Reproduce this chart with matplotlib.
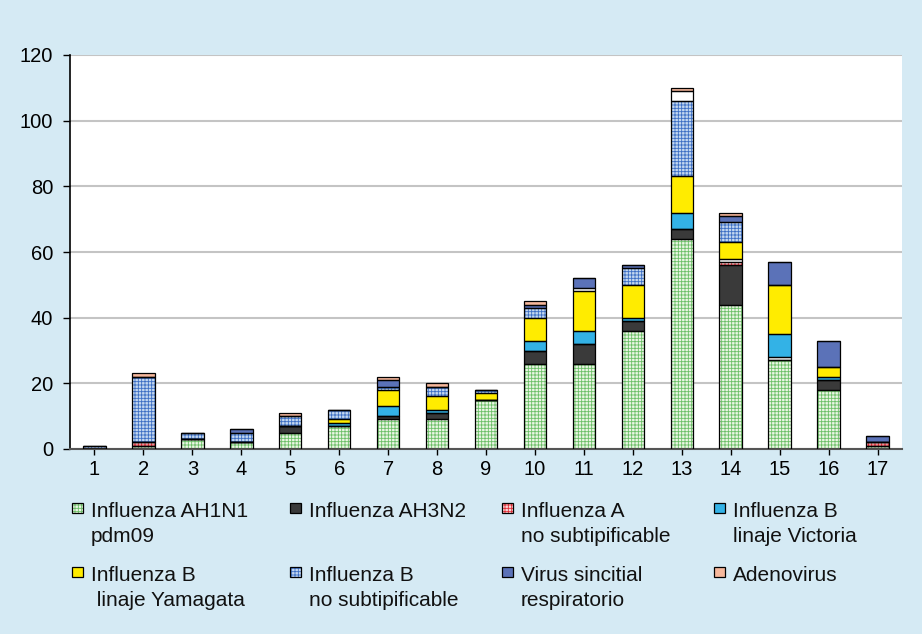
import matplotlib.pyplot as plt
import numpy as np
from matplotlib.patches import Rectangle

plt.rcParams['font.family'] = ['Liberation Sans', 'DejaVu Sans']
plt.rcParams['hatch.linewidth'] = 0.6

weeks = list(range(1, 18))

# casos por semana y agente
ah1n1 = [0, 1, 3, 2, 5, 7, 9, 9, 15, 26, 26, 36, 64, 44, 27, 18, 1]
ah3n2 = [0, 0, 0, 0, 2, 0, 1, 2, 0, 4, 6, 3, 3, 12, 0, 3, 0]
a_nosub = [0, 1, 0, 0, 0, 0, 0, 0, 0, 0, 0, 0, 0, 1, 1, 0, 1]
b_victoria = [0, 0, 0, 0, 0, 1, 3, 1, 0, 3, 4, 1, 5, 1, 7, 1, 0]
b_yamagata = [0, 0, 0, 0, 0, 1, 5, 4, 2, 7, 12, 10, 11, 5, 15, 3, 0]
b_nosub = [1, 20, 2, 3, 3, 3, 1, 3, 1, 3, 1, 5, 23, 6, 0, 0, 0]
vsr = [0, 0, 0, 1, 0, 0, 2, 0, 0, 1, 3, 1, 3, 2, 7, 8, 2]
adeno = [0, 1, 0, 0, 1, 0, 1, 1, 0, 1, 0, 0, 1, 1, 0, 0, 0]

labels = ["Influenza AH1N1\npdm09", "Influenza AH3N2", "Influenza A\nno subtipificable",
          "Influenza B\nlinaje Victoria", "Influenza B\n linaje Yamagata",
          "Influenza B\nno subtipificable", "Virus sincitial\nrespiratorio", "Adenovirus"]

# segmentos que en el original salen en blanco (semana, indice de serie)
blank = [(11, 5), (13, 6), (14, 3), (15, 2)]

series = [ah1n1, ah3n2, a_nosub, b_victoria, b_yamagata, b_nosub, vsr, adeno]
# (relleno, color de trama, trama)
styles = [('#eaf6e4', '#6cbf68', '+++++'),
          ('#3a3a3a', None, None),
          ('#fbd3d3', '#e0303a', '+++++'),
          ('#33b2e6', None, None),
          ('#ffec00', None, None),
          ('#c3d7f0', '#3d6fc4', '+++++'),
          ('#5b72b8', None, None),
          ('#f6b89c', None, None)]

fig = plt.figure(figsize=(9.22, 6.34), dpi=100)
fig.patch.set_facecolor('#d5eaf4')
ax = fig.add_axes([70/922, 1 - 449/634, 832/922, 394/634])
ax.set_facecolor('white')

bottom = np.zeros(len(weeks))
w = 0.46
for i, vals in enumerate(series):
    vals = np.array(vals, dtype=float)
    face, hcol, hatch = styles[i]
    if hatch:
        bars = ax.bar(weeks, vals, w, bottom=bottom, color=face, edgecolor=hcol,
                      hatch=hatch, linewidth=0, zorder=2)
    else:
        bars = ax.bar(weeks, vals, w, bottom=bottom, color=face, linewidth=0, zorder=2)
    for (wk, s) in blank:
        if s == i:
            bars[wk - 1].set_facecolor('white')
            bars[wk - 1].set_hatch(None)
    ax.bar(weeks, vals, w, bottom=bottom, fill=False, edgecolor='black', linewidth=0.9, zorder=3)
    bottom += vals

ax.set_xlim(0.5, 17.5)
ax.set_ylim(0, 120)
ax.set_yticks(range(0, 121, 20))
ax.set_xticks(weeks)
ax.yaxis.grid(True, color='#c4c4c4', linewidth=1.5, zorder=0)
ax.set_axisbelow(True)
for s in ['top', 'right']:
    ax.spines[s].set_visible(False)
ax.spines['left'].set_linewidth(1.2)
ax.spines['bottom'].set_linewidth(1.5)
ax.spines['bottom'].set_color('#555555')
ax.tick_params(axis='y', labelsize=14.5, length=5, width=1, pad=7)
ax.tick_params(axis='x', labelsize=14.5, length=4, width=1, pad=4)

# leyenda manual, 4 columnas x 2 filas
col_x = [72, 290, 502, 714]
row_y = [503, 567]
for i, lab in enumerate(labels):
    r, c = divmod(i, 4)
    x0, y0 = col_x[c], row_y[r]
    face, hcol, hatch = styles[i]
    fig.add_artist(Rectangle((x0/922, 1 - (y0 + 10)/634), 11/922, 10/634, transform=fig.transFigure,
                             facecolor=face, edgecolor=hcol if hatch else 'black',
                             hatch=hatch, linewidth=0))
    fig.add_artist(Rectangle((x0/922, 1 - (y0 + 10)/634), 11/922, 10/634, transform=fig.transFigure,
                             fill=False, edgecolor='black', linewidth=0.9))
    fig.text((x0 + 19)/922, 1 - (y0 - 1)/634, lab, fontsize=15, va='top', ha='left',
             linespacing=1.42, color='#111111')

fig.savefig('out.png', dpi=100, facecolor=fig.get_facecolor())
